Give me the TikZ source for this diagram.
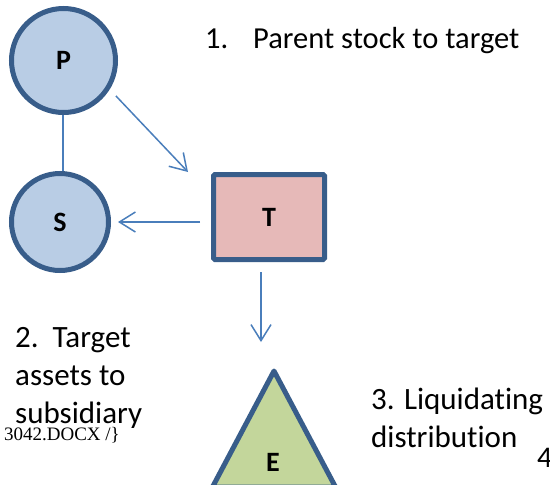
\documentclass[tikz,border=0pt]{standalone}
\usepackage{fontspec}
\setmainfont[Ligatures=NoCommon]{Carlito}
\newfontfamily\timesfont{Liberation Serif}
\usetikzlibrary{arrows.meta,calc}

\definecolor{edgeblue}{HTML}{385D8A}
\definecolor{circfill}{HTML}{B9CDE5}
\definecolor{rectfill}{HTML}{E6B9B8}
\definecolor{trifill}{HTML}{C3D69B}
\definecolor{arrowblue}{HTML}{4A7EBB}

\begin{document}
\begin{tikzpicture}[x=1pt,y=-1pt,
  entity/.style={draw=edgeblue, line width=5pt, font=\fontsize{28}{28}\selectfont\bfseries, inner sep=0pt},
  party/.style={entity, circle, fill=circfill},
  link/.style={draw=arrowblue, line width=1.5pt},
  flow/.style={link, -{Straight Barb[length=16pt,width=20pt]}},
  caption/.style={font=\fontsize{31}{38}\selectfont, inner sep=0pt, align=left}]
\useasboundingbox (0,0) rectangle (550,485);
\clip (0,0) rectangle (550,485);

% companies
\node[party, minimum size=104pt] (P) at (63.5,60.5) {P};
\node[party, minimum size=97pt] (S) at (60,222) {S};
\node[entity, rectangle, rounded corners=1.5pt, fill=rectfill,
      minimum width=111pt, minimum height=85pt] (T) at (269,217) {T};

% shareholders (triangle)
\filldraw[draw=edgeblue, fill=trifill, line width=5pt, line join=round]
  (274,371) -- (335.5,487) -- (212.5,487) -- cycle;
\coordinate (Etop) at (274,368);
\node[font=\fontsize{28}{28}\selectfont\bfseries, inner sep=0pt] (E) at (273,462) {E};

% ownership and transfers
\draw[link] ([xshift=-0.5pt]P.south) -- ([xshift=-0.5pt]P.south |- S.north);
\draw[flow, shorten <=9pt] (P.-32) -- ([xshift=-23pt]T.north west);
\draw[flow, shorten <=11pt, shorten >=7pt] (T.west |- S.center) -- (S.east);
\draw[flow, shorten <=10pt, shorten >=26pt] ([xshift=-8pt]T.south) -- ([xshift=-8pt]T.south |- Etop);

% steps (base anchor sits on the last line)
\node[caption, font=\fontsize{30.5}{38}\selectfont, anchor=base west] (step1) at (205,48) {\makebox[48pt][l]{1.}Parent stock to target};
\node[caption, anchor=base west] (step2) at (15,423) {2.\ \ Target\\assets to\\subsidiary};
\node[caption, anchor=base west] (step3) at (371,447) {3. Liquidating\\distribution};

% footer
\node[font=\timesfont\fontsize{19}{20}\selectfont, anchor=base east, inner sep=0pt] (docref) at (120,440) {3042.DOCX /\}};
\node[font=\fontsize{30}{30}\selectfont, anchor=base west, inner sep=0pt] (pageno) at (537,467) {4};
\end{tikzpicture}
\end{document}
